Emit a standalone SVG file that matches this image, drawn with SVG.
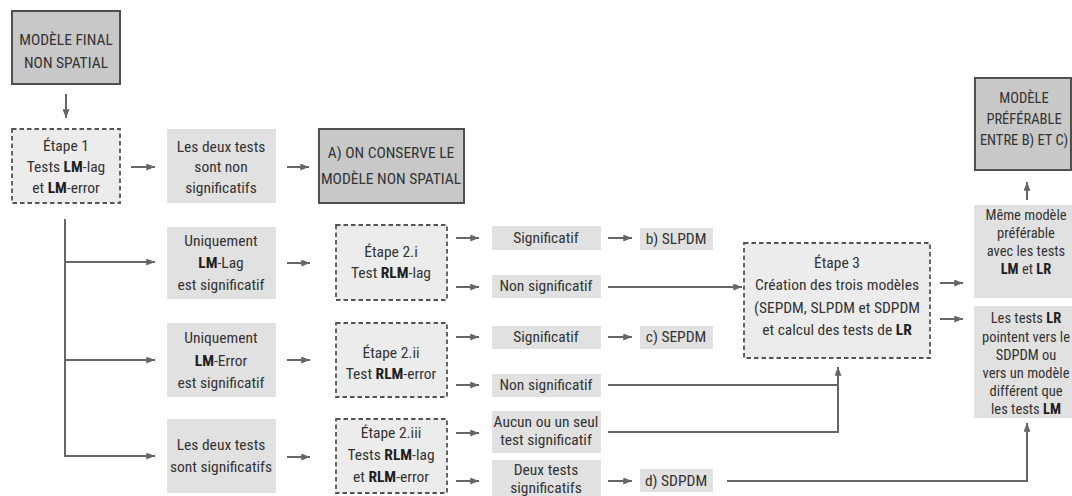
<svg xmlns="http://www.w3.org/2000/svg" width="1072" height="496" viewBox="0 0 1072 496">
<defs>
<marker id="ah" viewBox="0 0 10 8" refX="10" refY="4" markerWidth="9" markerHeight="7" markerUnits="userSpaceOnUse" orient="auto"><path d="M0,0 L10,4 L0,8 Z" fill="#666"/></marker>
<style>
.dk{fill:#c8c8c8;stroke:#4f4f4f;stroke-width:2}
.lt{fill:#e1e1e1;stroke:none}
.ds{fill:#ececec;stroke:#555;stroke-width:1.8;stroke-dasharray:4.5 3}
text{font-family:"Liberation Sans Narrow","Roboto Condensed","DejaVu Sans Condensed","Liberation Sans",sans-serif;font-size:15.5px;fill:#333;text-anchor:middle}
.r text{font-size:14.5px}
.b{font-weight:bold;fill:#1e1e1e}
.cn line,.cn path{stroke:#666;stroke-width:2;fill:none}
.ar{marker-end:url(#ah)}
</style>
</defs>
<rect width="1072" height="496" fill="#fff"/>
<g class="cn">
<line class="ar" x1="66" y1="94" x2="66" y2="118"/>
<line class="ar" x1="131" y1="167" x2="155" y2="167"/>
<line class="ar" x1="287" y1="167" x2="309" y2="167"/>
<path class="ar" d="M65,219 V456 H155"/>
<line class="ar" x1="65" y1="262" x2="155" y2="262"/>
<line class="ar" x1="65" y1="360" x2="155" y2="360"/>
<line class="ar" x1="287" y1="263" x2="310" y2="263"/>
<line class="ar" x1="287" y1="360" x2="310" y2="360"/>
<line class="ar" x1="287" y1="457" x2="310" y2="457"/>
<line class="ar" x1="456" y1="238" x2="479" y2="238"/>
<line class="ar" x1="456" y1="287" x2="479" y2="287"/>
<line class="ar" x1="456" y1="337" x2="479" y2="337"/>
<line class="ar" x1="456" y1="385" x2="479" y2="385"/>
<line class="ar" x1="456" y1="433" x2="479" y2="433"/>
<line class="ar" x1="456" y1="481" x2="479" y2="481"/>
<line class="ar" x1="608" y1="238" x2="632" y2="238"/>
<line class="ar" x1="608" y1="287" x2="742" y2="287"/>
<line class="ar" x1="608" y1="337" x2="632" y2="337"/>
<path d="M608,385 H838"/>
<path class="ar" d="M608,432 H838 V367"/>
<line class="ar" x1="608" y1="481" x2="632" y2="481"/>
<path class="ar" d="M727,481 H1027 V423"/>
<line class="ar" x1="940" y1="283" x2="963" y2="283"/>
<line class="ar" x1="940" y1="319" x2="963" y2="319"/>
<line class="ar" x1="1027" y1="200" x2="1027" y2="182"/>
</g>
<g id="final"><rect class="dk" x="12" y="11" width="108" height="73"/><text x="66" y="45">MODÈLE FINAL</text><text x="66" y="68">NON SPATIAL</text></g>
<g id="etape1"><rect class="ds" x="12" y="129" width="108" height="74"/><text x="66" y="151">Étape 1</text><text x="66" y="172">Tests <tspan class="b">LM</tspan>-lag</text><text x="66" y="193">et <tspan class="b">LM</tspan>-error</text></g>
<g id="nonsig"><rect class="lt" x="167" y="129" width="109" height="74"/><text x="221" y="152">Les deux tests</text><text x="221" y="172">sont non</text><text x="221" y="193">significatifs</text></g>
<g id="conserve"><rect class="dk" x="319" y="129" width="145" height="74"/><text x="391" y="158">A) ON CONSERVE LE</text><text x="391" y="184">MODÈLE NON SPATIAL</text></g>
<g id="lmlag"><rect class="lt" x="167" y="227" width="109" height="72"/><text x="221" y="246">Uniquement</text><text x="221" y="268"><tspan class="b">LM</tspan>-Lag</text><text x="221" y="290">est significatif</text></g>
<g id="lmerror"><rect class="lt" x="167" y="323" width="109" height="74"/><text x="221" y="343">Uniquement</text><text x="221" y="366"><tspan class="b">LM</tspan>-Error</text><text x="221" y="388">est significatif</text></g>
<g id="deuxsig"><rect class="lt" x="167" y="419" width="109" height="74"/><text x="221" y="450">Les deux tests</text><text x="221" y="472">sont significatifs</text></g>
<g id="etape2i"><rect class="ds" x="336" y="225" width="111" height="75"/><text x="391" y="257">Étape 2.i</text><text x="391" y="278">Test <tspan class="b">RLM</tspan>-lag</text></g>
<g id="etape2ii"><rect class="ds" x="336" y="323" width="111" height="74"/><text x="391" y="358">Étape 2.ii</text><text x="391" y="379">Test <tspan class="b">RLM</tspan>-error</text></g>
<g id="etape2iii"><rect class="ds" x="336" y="419" width="111" height="74"/><text x="391" y="438">Étape 2.iii</text><text x="391" y="460">Tests <tspan class="b">RLM</tspan>-lag</text><text x="391" y="482">et <tspan class="b">RLM</tspan>-error</text></g>
<g id="sig1"><rect class="lt" x="492" y="226" width="109" height="24"/><text x="546" y="243">Significatif</text></g>
<g id="nonsig1"><rect class="lt" x="492" y="275" width="109" height="23"/><text x="546" y="291">Non significatif</text></g>
<g id="sig2"><rect class="lt" x="492" y="326" width="109" height="23"/><text x="546" y="342">Significatif</text></g>
<g id="nonsig2"><rect class="lt" x="492" y="374" width="109" height="23"/><text x="546" y="390">Non significatif</text></g>
<g id="aucun"><rect class="lt" x="492" y="411" width="109" height="42"/><text x="546" y="427">Aucun ou un seul</text><text x="546" y="445">test significatif</text></g>
<g id="deux"><rect class="lt" x="492" y="460" width="109" height="40"/><text x="546" y="475">Deux tests</text><text x="546" y="493">significatifs</text></g>
<g id="slpdm"><rect class="lt" x="640" y="228" width="73" height="22"/><text x="676" y="244">b) SLPDM</text></g>
<g id="sepdm"><rect class="lt" x="640" y="326" width="73" height="23"/><text x="676" y="342">c) SEPDM</text></g>
<g id="sdpdm"><rect class="lt" x="640" y="469" width="73" height="23"/><text x="676" y="486">d) SDPDM</text></g>
<g id="etape3"><rect class="ds" x="744" y="243" width="186" height="115"/><text x="837" y="268">Étape 3</text><text x="837" y="290">Création des trois modèles</text><text x="837" y="313">(SEPDM, SLPDM et SDPDM</text><text x="837" y="335">et calcul des tests de <tspan class="b">LR</tspan></text></g>
<g id="preferable" class="r"><rect class="dk" x="975" y="78" width="96" height="92"/><text x="1024" y="103">MODÈLE</text><text x="1024" y="124">PRÉFÉRABLE</text><text x="1024" y="145">ENTRE B) ET C)</text></g>
<g id="meme" class="r"><rect class="lt" x="974" y="205" width="110" height="93"/><text x="1026" y="220">Même modèle</text><text x="1026" y="238">préférable</text><text x="1026" y="256">avec les tests</text><text x="1026" y="274"><tspan class="b">LM</tspan> et <tspan class="b">LR</tspan></text></g>
<g id="lrtests" class="r"><rect class="lt" x="974" y="306" width="110" height="112"/><text x="1026" y="323">Les tests <tspan class="b">LR</tspan></text><text x="1026" y="342">pointent vers le</text><text x="1026" y="360">SDPDM ou</text><text x="1026" y="378">vers un modèle</text><text x="1026" y="396">différent que</text><text x="1026" y="414">les tests <tspan class="b">LM</tspan></text></g>
</svg>
